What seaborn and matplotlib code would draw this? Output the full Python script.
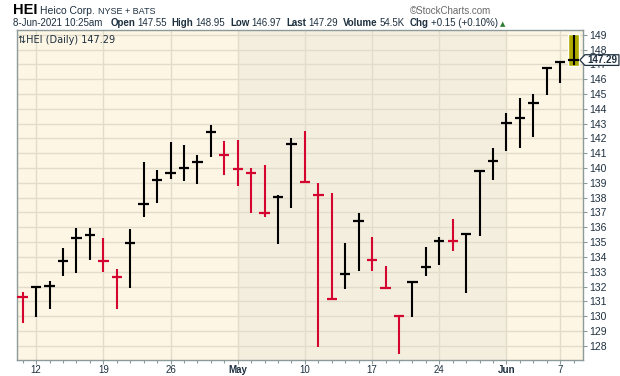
import matplotlib
matplotlib.use("Agg")
import matplotlib.pyplot as plt
import matplotlib.transforms as mtransforms
import matplotlib.patches as mpatches
import numpy as np
import pandas as pd
import seaborn as sns

# HEI daily bars, 9-Apr-2021 .. 8-Jun-2021
DATES = ["2021-04-09", "2021-04-12", "2021-04-13", "2021-04-14", "2021-04-15",
         "2021-04-16", "2021-04-19", "2021-04-20", "2021-04-21", "2021-04-22",
         "2021-04-23", "2021-04-26", "2021-04-27", "2021-04-28", "2021-04-29",
         "2021-04-30", "2021-05-03", "2021-05-04", "2021-05-05", "2021-05-06",
         "2021-05-07", "2021-05-10", "2021-05-11", "2021-05-12", "2021-05-13",
         "2021-05-14", "2021-05-17", "2021-05-18", "2021-05-19", "2021-05-20",
         "2021-05-21", "2021-05-24", "2021-05-25", "2021-05-26", "2021-05-27",
         "2021-05-28", "2021-06-01", "2021-06-02", "2021-06-03", "2021-06-04",
         "2021-06-07", "2021-06-08"]
HIGH = [131.60, 132.00, 132.37, 134.60, 135.95, 135.95, 135.27, 133.18, 135.88, 140.40,
        139.86, 141.75, 141.57, 140.88, 142.90, 141.82, 141.89, 140.00, 140.20, 138.16,
        142.02, 142.50, 138.97, 138.29, 134.91, 136.94, 135.32, 133.38, 130.05, 132.35,
        134.64, 135.36, 136.56, 135.60, 139.85, 141.35, 143.71, 144.73, 145.00, 146.82,
        147.18, 148.95]
LOW = [129.51, 129.96, 130.46, 132.73, 132.93, 133.79, 133.00, 130.50, 131.92, 136.71,
       137.66, 139.28, 139.14, 138.92, 140.76, 139.55, 138.78, 136.98, 136.71, 134.87,
       137.30, 139.00, 127.93, 131.12, 131.85, 133.06, 133.06, 131.81, 127.46, 129.96,
       132.71, 133.43, 134.37, 131.58, 135.43, 139.19, 141.17, 141.37, 142.11, 144.95,
       145.72, 146.97]
CLOSE = [131.31, 131.95, 132.03, 133.74, 135.29, 135.48, 133.74, 132.66, 134.96, 137.59,
         139.21, 139.64, 140.02, 140.42, 142.45, 140.86, 139.93, 139.68, 136.98, 138.04,
         141.64, 139.07, 138.18, 131.17, 132.86, 136.44, 133.81, 131.92, 130.00, 132.30,
         133.31, 135.09, 135.05, 135.52, 139.82, 140.49, 143.06, 143.40, 144.41, 146.75,
         147.14, 147.29]
PREV_CLOSE = 131.60  # close before the first bar

TICK_DATES = ["2021-04-12", "2021-04-19", "2021-04-26", "2021-05-03", "2021-05-10",
              "2021-05-17", "2021-05-24", "2021-06-01", "2021-06-07"]
TICK_LABELS = ["12", "19", "26", "May", "10", "17", "24", "Jun", "7"]
Y_TICKS = list(range(128, 150))

UP, DOWN = "#000000", "#D4062F"

df = pd.DataFrame({"date": pd.to_datetime(DATES), "high": HIGH, "low": LOW, "close": CLOSE})
df["idx"] = np.arange(len(df))
prev = np.r_[PREV_CLOSE, df["close"].values[:-1]]
df["dir"] = np.where(df["close"] < prev, "down", "up")
colors = df["dir"].map({"up": UP, "down": DOWN})

sns.set_style("white")
plt.rcParams["font.family"] = ["Liberation Sans", "DejaVu Sans"]

W, H = 620, 376
fig = plt.figure(figsize=(W / 100, H / 100), dpi=100)
ax = fig.add_axes([16.5 / W, 16 / H, 566.2 / W, 330 / H])
ax.set_facecolor("#FDF6E4")

# May shading
may0 = df.loc[df["date"].dt.month == 5, "idx"].min()
jun0 = df.loc[df["date"].dt.month == 6, "idx"].min()
ax.axvspan(may0, jun0, color="#F4EEDF", zorder=0.2, lw=0)

# last bar highlight
last = df.iloc[-1]
ax.bar([last["idx"]], [last["high"] - last["low"] + 0.2], bottom=last["low"] - 0.1,
       width=0.82, color="#AEAA00", zorder=1)

ax.vlines(df["idx"], df["low"], df["high"], colors=colors, linewidth=1.5, zorder=3)
sns.scatterplot(data=df, x="idx", y="close", hue="dir", palette={"up": UP, "down": DOWN},
                marker="_", s=56, linewidth=1.6, legend=False, ax=ax, zorder=4)

ax.set_xlim(-0.46, 41.67)
ax.set_ylim(127.04, 149.32)

tick_idx = [int(df.index[df["date"] == pd.Timestamp(d)][0]) for d in TICK_DATES]
ax.set_xticks(tick_idx)
ax.set_xticks(df["idx"], minor=True)
ax.set_xticklabels(TICK_LABELS)
for lab in ax.get_xticklabels():
    if lab.get_text() in ("May", "Jun"):
        lab.set_fontweight("bold")
ax.yaxis.tick_right()
ax.set_yticks(Y_TICKS)
ax.set_xlabel("")
ax.set_ylabel("")

tc = "#1E3040"
ax.tick_params(axis="x", which="major", length=3, width=0.8, color="#8C9A9A",
               labelsize=7, labelcolor=tc, pad=0.5, bottom=True)
ax.tick_params(axis="x", which="minor", length=2, width=0.8, color="#8C9A9A", bottom=True)
ax.tick_params(axis="y", length=3, width=0.8, color="#8C9A9A", labelsize=7.5,
               labelcolor=tc, pad=1.5, right=True, left=False)

ax.set_axisbelow(True)
ax.grid(True, which="major", color="#E2DCCB", linewidth=1.0)
for s in ax.spines.values():
    s.set_color("#8C9A9A")
    s.set_linewidth(1.0)
    s.set_visible(True)

# price tag on the right axis
trans = mtransforms.blended_transform_factory(ax.transAxes, ax.transData)
lc = last["close"]
tag = mpatches.Polygon([(0.995, lc), (1.004, lc + 0.36), (1.064, lc + 0.36),
                        (1.064, lc - 0.36), (1.004, lc - 0.36)], closed=True,
                       transform=trans, facecolor="white", edgecolor="#1E3040",
                       linewidth=0.9, clip_on=False, zorder=10)
ax.add_patch(tag)
ax.text(1.034, lc, f"{lc:.2f}", transform=trans, ha="center", va="center",
        fontsize=7, fontweight="bold", color="#1E3040", clip_on=False, zorder=11)

# in-plot label
ax.text(2 / 566.2, 0.985, "\u21c5HEI (Daily) 147.29", transform=ax.transAxes,
        ha="left", va="top", fontsize=7, color="#1E3040",
        family=["DejaVu Sans"], zorder=12)

# header, pieces laid out one after another
renderer = fig.canvas.get_renderer()


def put(px, py, txt, gap=3, **kw):
    t = fig.text(px / W, 1 - py / H, txt, va="baseline", **kw)
    bb = t.get_window_extent(renderer=renderer)
    return bb.x1 + gap


x = put(13, 14, "HEI", fontsize=10.5, fontweight="bold", color="black")
x = put(x, 13.5, "Heico Corp.", fontsize=7.5, color="#1E3040")
put(x, 13.5, "NYSE + BATS", fontsize=6.5, color="#1E3040")
fig.text(491 / W, 1 - 13.5 / H, "\u00a9StockCharts.com", fontsize=7, color="#6A6A6A",
         ha="right", va="baseline")

line2 = [("8-Jun-2021 10:25am", "normal", 8), ("Open", "bold", 2),
         ("147.55", "normal", 5), ("High", "bold", 2), ("148.95", "normal", 5),
         ("Low", "bold", 2), ("146.97", "normal", 5), ("Last", "bold", 2),
         ("147.29", "normal", 5), ("Volume", "bold", 2), ("54.5K", "normal", 5),
         ("Chg", "bold", 2), ("+0.15 (+0.10%)", "normal", 2)]
x = 13
for txt, wt, gap in line2:
    x = put(x, 26, txt, gap=gap, fontsize=7, fontweight=wt, color="#1E3040")
fig.text(x / W, 1 - 26 / H, "\u25b2", fontsize=5, color="#2E7D32", va="baseline",
         family=["DejaVu Sans"])

fig.savefig("out.png", dpi=100, facecolor="white")
